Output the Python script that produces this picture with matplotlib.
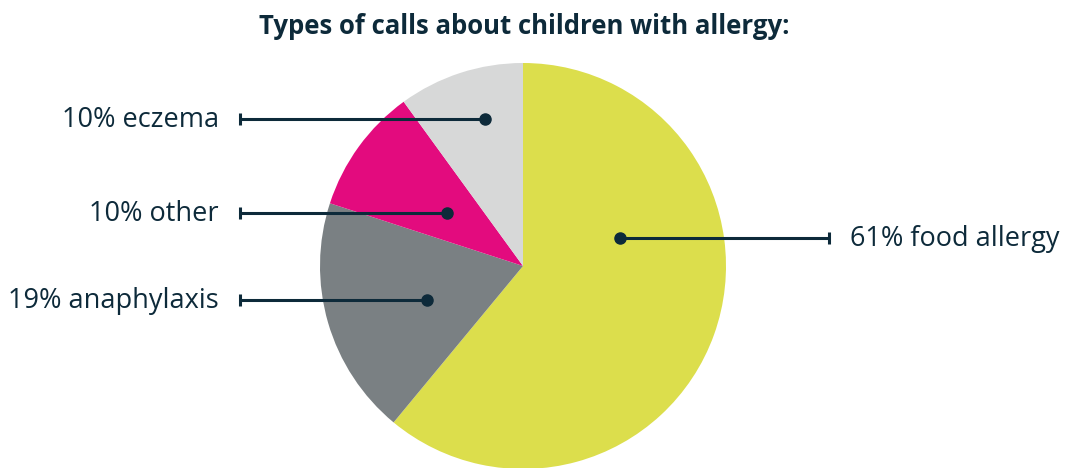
import matplotlib.pyplot as plt
from matplotlib.patches import Wedge

# data
labels = ['food allergy', 'anaphylaxis', 'other', 'eczema']
shares = [61, 19, 10, 10]
colors = ['#dcde4c', '#7a8083', '#e30b7e', '#d7d8d8']

# layout in pixels (origin top-left)
W, H = 1068, 468
cx, cy, rad = 523, 266, 203
dots = [(620, 238), (427, 300), (447, 213), (485, 119)]
ends = [829, 240, 240, 240]
ink = '#0d2a3a'

plt.rcParams['font.family'] = ['Open Sans', 'DejaVu Sans']

fig = plt.figure(figsize=(W / 100, H / 100), dpi=100)
ax = fig.add_axes([0, 0, 1, 1])
ax.set_xlim(0, W)
ax.set_ylim(0, H)
ax.set_aspect('equal')
ax.axis('off')

def py(y):
    return H - y

# wedges, clockwise from 12 o'clock
start = 90.0
for s, c in zip(shares, colors):
    span = 360.0 * s / sum(shares)
    ax.add_patch(Wedge((cx, py(cy)), rad, start - span, start, facecolor=c, edgecolor='none'))
    start -= span

# leader lines
for lab, s, (dx, dy), ex in zip(labels, shares, dots, ends):
    ax.plot([dx, ex], [py(dy), py(dy)], color=ink, lw=2.2, solid_capstyle='butt')
    ax.plot([ex, ex], [py(dy) - 6, py(dy) + 6], color=ink, lw=2.2, solid_capstyle='butt')
    ax.plot(dx, py(dy), 'o', color=ink, ms=8)
    txt = f'{s}% {lab}'
    if ex > dx:
        ax.text(ex + 21, py(dy + 1), txt, ha='left', va='center', fontsize=19.5, color=ink)
    else:
        ax.text(ex - 21, py(dy + 1), txt, ha='right', va='center', fontsize=19.5, color=ink)

ax.text(524, py(27), 'Types of calls about children with allergy:', ha='center', va='center',
        fontsize=18.5, fontweight='bold', color=ink)

fig.savefig('out.png', dpi=100)
